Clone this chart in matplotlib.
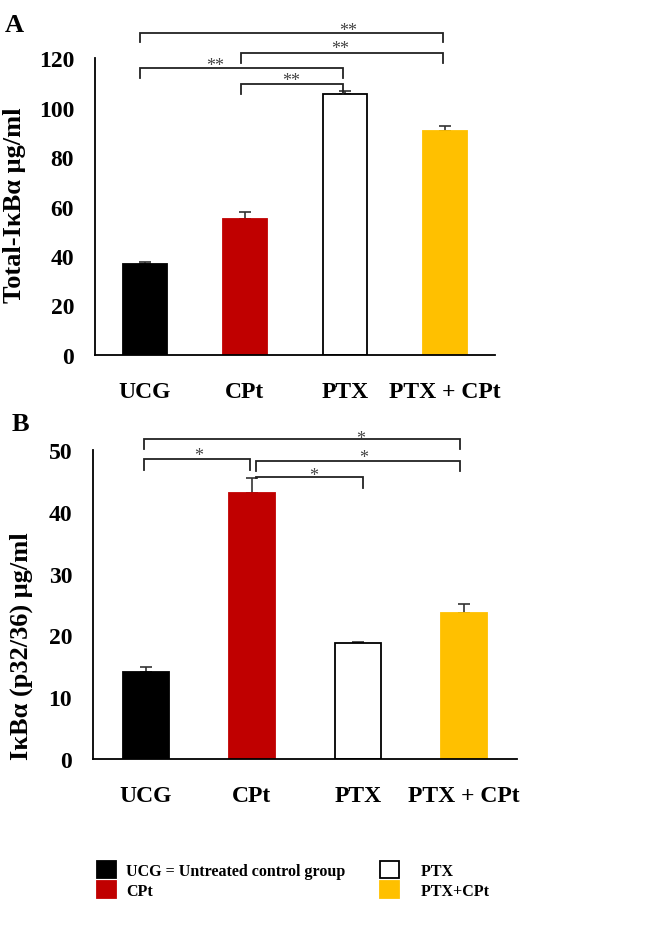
import matplotlib
matplotlib.use('Agg')
from matplotlib import pyplot as plt
from matplotlib.patches import Patch

plt.rcParams['font.family'] = 'Liberation Serif'
plt.rcParams['font.weight'] = 'bold'

groups = ['UCG', 'CPt', 'PTX', 'PTX + CPt']
colors = ['#000000', '#C00000', '#FFFFFF', '#FFC000']
edges = ['#000000', '#C00000', '#000000', '#FFC000']

# panel A: total IkBa
total_mean = [36.8, 55.0, 105.4, 90.6]
total_err = [0.6, 2.6, 1.2, 2.0]
# panel B: phospho IkBa (p32/36)
phos_mean = [14.1, 43.1, 18.8, 23.7]
phos_err = [0.8, 2.3, 0.15, 1.45]

# brackets: (x1, x2, top, left drop, right drop, star x, star y, text)
brackets_a = [(-0.05, 2.98, 130.2, 126.5, 126.5, 2.03, 129.3, '**'),
              (0.96, 2.98, 121.9, 118.0, 118.0, 1.95, 122.2, '**'),
              (-0.05, 1.98, 115.8, 111.9, 111.9, 0.70, 115.2, '**'),
              (0.96, 1.98, 109.6, 105.6, 105.6, 1.46, 109.1, '**')]
brackets_b = [(-0.02, 2.96, 51.8, 50.2, 50.2, 2.03, 51.2, '*'),
              (-0.02, 0.98, 48.6, 46.8, 46.8, 0.50, 48.4, '*'),
              (1.04, 2.96, 48.3, 46.6, 46.6, 2.05, 48.05, '*'),
              (1.04, 2.05, 45.6, 45.5, 43.8, 1.58, 45.1, '*')]

fig = plt.figure(figsize=(6.46, 9.28), dpi=100)
ax_a = fig.add_axes([0.147, 0.6164, 0.619, 0.3200])
ax_b = fig.add_axes([0.144, 0.1810, 0.656, 0.3330])


def draw_panel(ax, means, errs, ymax, step, ylabel, brackets, label_xy):
    x = range(len(groups))
    ax.bar(x, means, width=0.44, color=colors, edgecolor=edges, linewidth=1.3, zorder=2)
    ax.errorbar(x, means, yerr=[[0] * len(errs), errs], fmt='none', ecolor='#333333',
                elinewidth=1.2, capsize=4, capthick=1.2, zorder=1)
    ax.set_xlim(-0.5, 3.5)
    ax.set_ylim(0, ymax)
    ax.set_yticks(range(0, ymax + 1, step))
    ax.set_xticks(list(x))
    ax.set_xticklabels(groups, fontsize=17, fontweight='bold')
    ax.tick_params(axis='y', length=0, pad=15, labelsize=17)
    ax.tick_params(axis='x', length=0, pad=19)
    for s in ['top', 'right']:
        ax.spines[s].set_visible(False)
    for s in ['left', 'bottom']:
        ax.spines[s].set_linewidth(1.3)
    ax.set_ylabel(ylabel, fontsize=19, fontweight='bold')
    ax.yaxis.set_label_coords(*label_xy)
    for x1, x2, top, d1, d2, sx, sy, txt in brackets:
        ax.plot([x1, x1, x2, x2], [d1, top, top, d2], color='#222222', lw=1.3,
                clip_on=False, solid_joinstyle='miter')
        ax.text(sx, sy, txt, ha='center', va='baseline', fontsize=13, color='#444444',
                fontweight='normal', clip_on=False)


draw_panel(ax_a, total_mean, total_err, 120, 20, 'Total-IκBα μg/ml', brackets_a,
           (-0.172, 0.508))
draw_panel(ax_b, phos_mean, phos_err, 50, 10, 'IκBα (p32/36) μg/ml', brackets_b,
           (-0.1415, 0.37))

fig.text(0.008, 0.973, 'A', fontsize=19, fontweight='bold', va='center')
fig.text(0.018, 0.543, 'B', fontsize=19, fontweight='bold', va='center')

legend_names = ['UCG = Untreated control group', 'CPt', '   PTX', '   PTX+CPt']
handles = [Patch(facecolor=c, edgecolor=e, linewidth=1.3, label=n)
           for c, e, n in zip(colors, edges, legend_names)]
fig.legend(handles=handles, ncol=2, loc='center left', bbox_to_anchor=(0.128, 0.0505),
           frameon=False, fontsize=11.5, handlelength=1.2, handleheight=1.25,
           handletextpad=0.6, labelspacing=0.15, columnspacing=2.2)

plt.savefig('out.png', dpi=100)
plt.close()
